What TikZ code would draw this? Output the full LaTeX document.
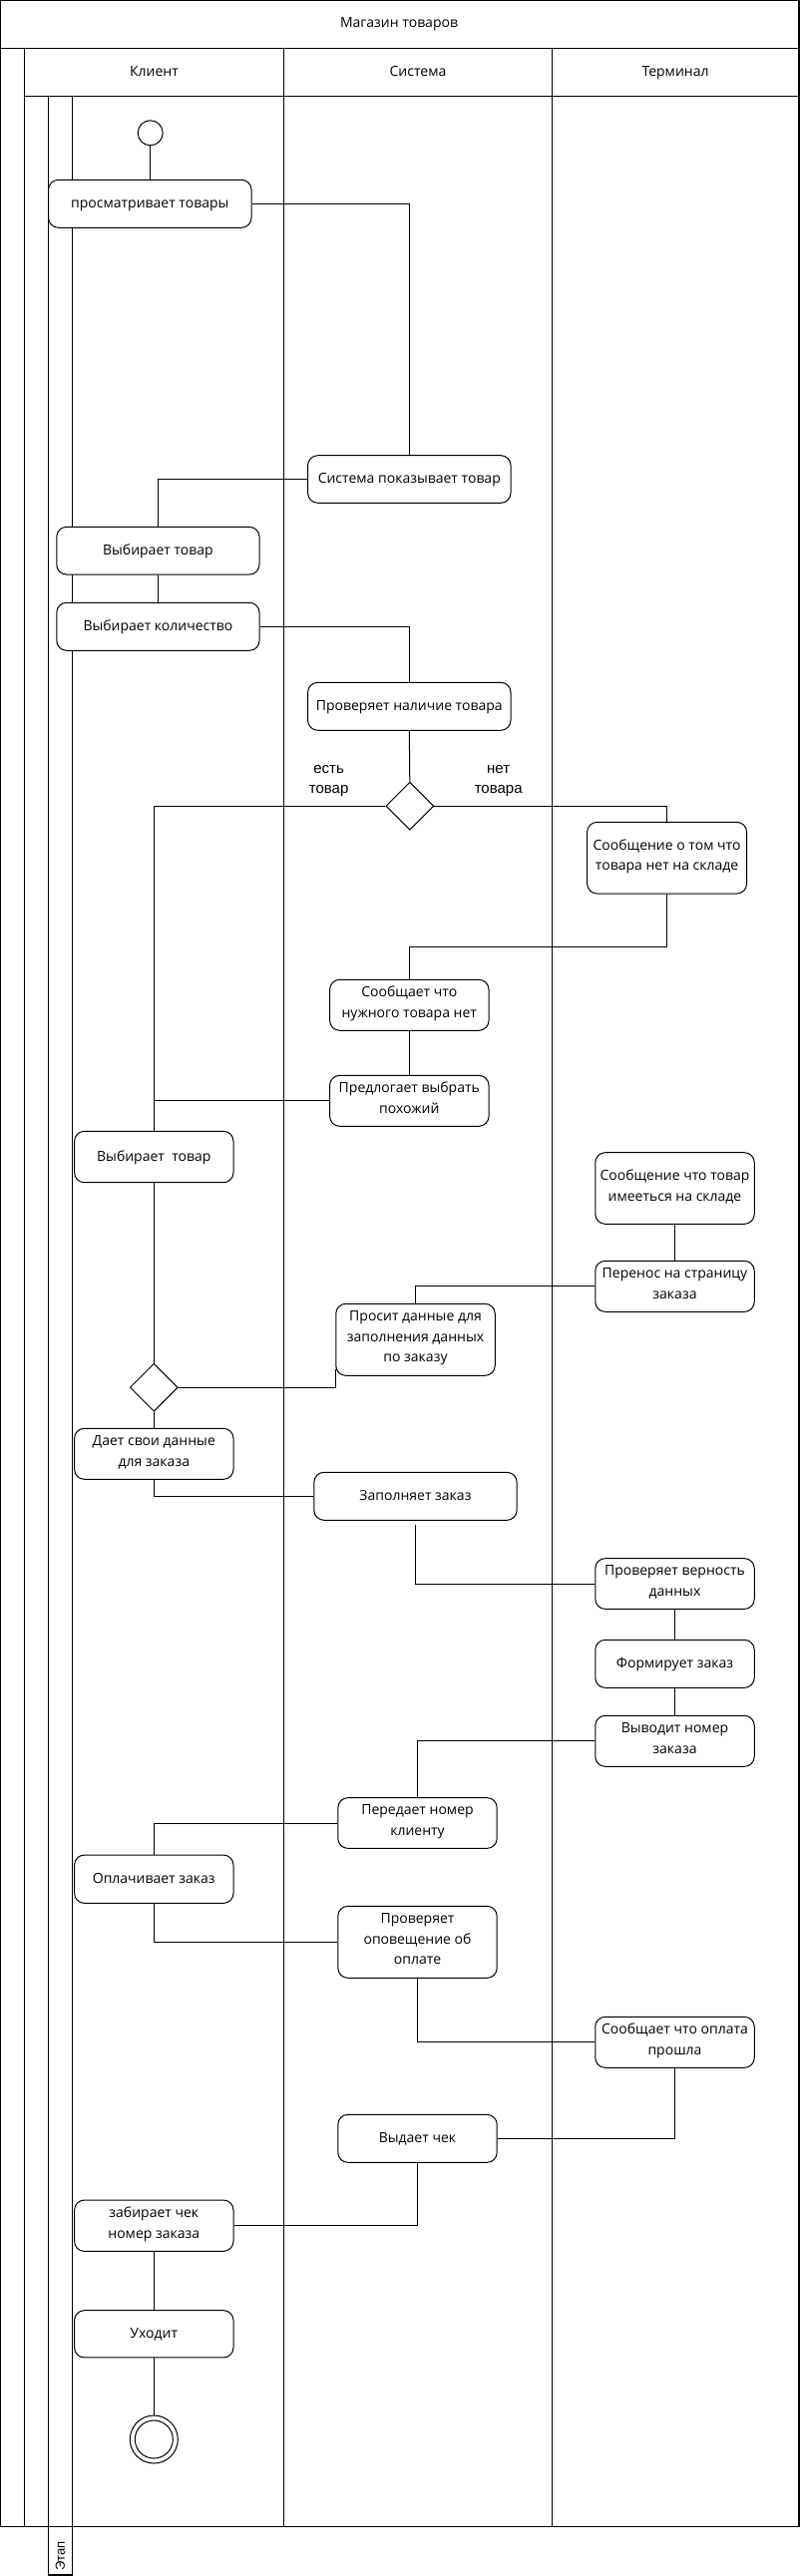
\documentclass[tikz,border=0pt]{standalone}
\usepackage{fontspec}
\setmainfont{Open Sans}
\newfontfamily\lblfont{Liberation Sans}
\usetikzlibrary{shapes.geometric,calc}
\tikzset{
  act/.style 2 args={draw, rounded corners=10pt, fill=white, align=center,
    font=\fontsize{14}{20.7}\selectfont, inner sep=0pt, line width=1pt,
    minimum width=#1, minimum height=#2,
    execute at begin node=\strut, execute at end node=\strut},
  dec/.style={draw, diamond, aspect=1, minimum width=48pt, minimum height=48pt,
    inner sep=0pt, fill=white, line width=1pt},
  conn/.style={line width=1pt},
  frame/.style={line width=1.2pt},
  hdr/.style={font=\fontsize{14}{18}\selectfont, inner sep=0pt,
    execute at begin node=\strut},
  lbl/.style={font=\lblfont\fontsize{15}{20}\selectfont, align=center},
}
\begin{document}
\begin{tikzpicture}[x=1pt,y=-1pt]
\useasboundingbox (0,0) rectangle (801,2583);
% pool frame
\draw[frame] (0,0) rectangle (801,2533.3);
\draw[frame] (0,48.3) -- (801,48.3);
\draw[frame] (24.5,48.3) -- (24.5,2533.3);
\draw[frame] (24.5,96.7) -- (801,96.7);
\draw[frame] (284.6,48.3) -- (284.6,2533.3);
\draw[line width=0.8pt] (553.4,48.3) -- (553.4,2533.3);
\draw[frame] (48.5,96.7) rectangle (72.6,2582);
\node[hdr] (title) at (400,24.2) {Магазин товаров};
\node[hdr] (l1) at (154.5,72.5) {Клиент};
\node[hdr] (l2) at (419,72.5) {Система};
\node[hdr] (l3) at (677,72.5) {Терминал};
\node[font=\lblfont\fontsize{13}{15}\selectfont, rotate=90] (etap) at (60.5,2563) {Этап};

% nodes
\node[draw, circle, minimum size=25pt, inner sep=0pt, line width=1pt, fill=white] (start) at (150.7,133.3) {};
\node[act={203.5pt}{48pt}] (b1) at (150.3,204.3) {просматривает товары};
\node[act={203.4pt}{47.6pt}] (b2) at (410.3,480.5) {Система показывает товар};
\node[act={203.3pt}{47.7pt}] (b3) at (158.4,552.2) {Выбирает товар};
\node[act={203.3pt}{48pt}] (b4) at (158.4,628.3) {Выбирает количество};
\node[act={203.4pt}{48pt}] (b5) at (410.3,708.3) {Проверяет наличие товара};
\node[dec] (d1) at (410.8,808.2) {};
\node[lbl] (y1) at (329.6,783) {есть\\товар};
\node[lbl] (n1) at (499.7,783) {нет\\товара};
\node[act={160pt}{71.7pt}] (b6) at (668.6,860.2) {Сообщение о том что\\товара нет на складе};
\node[act={159.4pt}{51pt}] (b7) at (410.3,1007.8) {Сообщает что\\нужного товара нет};
\node[act={159.4pt}{51pt}] (b8) at (410.3,1103.8) {Предлогает выбрать\\похожий};
\node[act={159.4pt}{51.4pt}] (b9) at (154.3,1160) {Выбирает\ \ товар};
\node[act={159.5pt}{71.6pt}] (b10) at (676.5,1191.5) {Сообщение что товар\\имееться на складе};
\node[act={159.5pt}{51pt}] (b11) at (676.5,1289.8) {Перенос на страницу\\заказа};
\node[act={159.5pt}{72pt}] (b12) at (416.5,1343.3) {Просит данные для\\заполнения данных\\по заказу};
\node[dec] (d2) at (154.3,1391.2) {};
\node[act={159.4pt}{51pt}] (b13) at (154.3,1457.8) {Дает свои данные\\для заказа};
\node[act={203.3pt}{48pt}] (b14) at (416.5,1500.3) {Заполняет заказ};
\node[act={159.5pt}{50.7pt}] (b15) at (676.5,1588) {Проверяет верность\\данных};
\node[act={159.5pt}{48pt}] (b16) at (676.5,1668.3) {Формирует заказ};
\node[act={159.5pt}{51pt}] (b17) at (676.5,1745.8) {Выводит номер\\заказа};
\node[act={159.4pt}{50.7pt}] (b18) at (418.5,1828) {Передает номер\\клиенту};
\node[act={159.4pt}{48.3pt}] (b19) at (154.3,1884.2) {Оплачивает заказ};
\node[act={159.4pt}{72pt}] (b20) at (418.5,1947.3) {Проверяет\\оповещение об\\оплате};
\node[act={159.5pt}{51pt}] (b21) at (676.5,2047.8) {Сообщает что оплата\\прошла};
\node[act={159.4pt}{48pt}] (b22) at (418.5,2144.3) {Выдает чек};
\node[act={159.4pt}{51.3pt}] (b23) at (154.3,2231.7) {забирает чек\\номер заказа};
\node[act={159.4pt}{47.3pt}] (b24) at (154.3,2340.3) {Уходит};
\node[draw, circle, minimum size=48pt, inner sep=0pt, line width=1pt, fill=white] (fin) at (154.3,2446) {};
\node[draw, circle, minimum size=38pt, inner sep=0pt, line width=1pt] (fin2) at (fin.center) {};

% connectors
\draw[conn] (start.south) -- (b1.north -| start.south);
\draw[conn] (b1.east) -| (b2.north);
\draw[conn] (b2.west) -| (b3.north);
\draw[conn] (b3.south) -- (b4.north);
\draw[conn] (b4.east) -| (b5.north);
\draw[conn] (b5.south) -- (d1.north);
\draw[conn] (d1.west) -| (b9.north);
\draw[conn] (d1.east) -| (b6.north);
\draw[conn] (b6.south) -- ++(0,53.3) -| (b7.north);
\draw[conn] (b7.south) -- (b8.north);
\draw[conn] (b8.west) -- (b8.west -| b9.north);
\draw[conn] (b10.south) -- (b11.north);
\draw[conn] (b11.west) -| (b12.north);
\draw[conn] ([yshift=7pt]b12.south west) |- (d2.east);
\draw[conn] (b9.south) -- (d2.north);
\draw[conn] (d2.south) -- (b13.north);
\draw[conn] (b13.south) |- (b14.west);
\draw[conn] ([yshift=-4pt]b14.south) |- (b15.west);
\draw[conn] (b15.south) -- (b16.north);
\draw[conn] (b16.south) -- (b17.north);
\draw[conn] (b17.west) -| (b18.north);
\draw[conn] (b18.west) -| (b19.north);
\draw[conn] (b19.south) |- (b20.west);
\draw[conn] (b20.south) |- (b21.west);
\draw[conn] (b21.south) |- (b22.east);
\draw[conn] (b22.south) |- (b23.east);
\draw[conn] (b23.south) -- (b24.north);
\draw[conn] (b24.south) -- (fin.north);
\end{tikzpicture}
\end{document}
